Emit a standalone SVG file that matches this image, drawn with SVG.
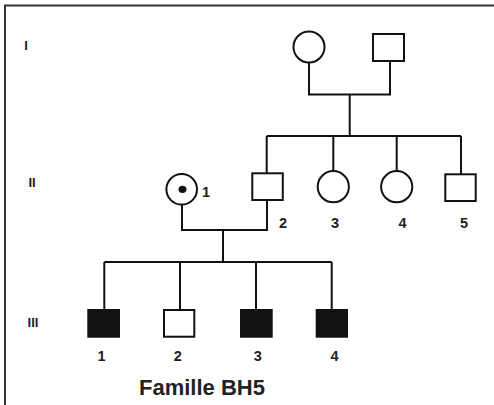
<svg xmlns="http://www.w3.org/2000/svg" width="494" height="405" viewBox="0 0 494 405">
<style>
.ln{fill:none;stroke:#111;stroke-width:2}
.nd{fill:#fff;stroke:#111;stroke-width:2}
.af{fill:#111;stroke:#111;stroke-width:2}
.num{font-family:"Liberation Sans",Arial,sans-serif;font-weight:bold;font-size:14.5px;fill:#222;text-anchor:middle}
.gen{font-family:"Liberation Sans",Arial,sans-serif;font-weight:bold;font-size:13px;fill:#1c1c30;text-anchor:middle}
.ttl{font-family:"Liberation Sans",Arial,sans-serif;font-weight:bold;font-size:22px;fill:#222}
</style>
<rect width="494" height="405" fill="#fff"/>
<path d="M5,405 V5.5 H494" fill="none" stroke="#333" stroke-width="2"/>
<g id="gen-labels">
<text class="gen" x="26" y="50">I</text>
<text class="gen" x="32" y="187">II</text>
<text class="gen" x="33" y="327">III</text>
</g>
<g id="connectors">
<path class="ln" d="M309,62.5 V94.5 H390 V60.7"/>
<path class="ln" d="M349.7,94.5 V136"/>
<path class="ln" d="M266.7,136 H461"/>
<path class="ln" d="M266.7,136 V173.3 M333.3,136 V171 M396.7,136 V171 M461,136 V174.3"/>
<path class="ln" d="M182,204.6 V230 H267 V200"/>
<path class="ln" d="M223,230 V262"/>
<path class="ln" d="M104.3,262 H331.7"/>
<path class="ln" d="M104.3,262 V310 M180,262 V310 M256,262 V310 M331.7,262 V310"/>
</g>
<g id="I-1"><circle class="nd" cx="309" cy="47" r="15.5"/></g>
<g id="I-2"><rect class="nd" x="373" y="34" width="31" height="27"/></g>
<g id="II-1"><circle class="nd" cx="181.7" cy="189.3" r="15.3"/><ellipse cx="182.5" cy="189.3" rx="4" ry="3.6" fill="#111"/><text class="num" x="206" y="197">1</text></g>
<g id="II-2"><rect class="nd" x="252.3" y="173.3" width="30.5" height="26.7"/><text class="num" x="283" y="228">2</text></g>
<g id="II-3"><circle class="nd" cx="333.3" cy="186.7" r="15.6"/><text class="num" x="335" y="228">3</text></g>
<g id="II-4"><circle class="nd" cx="396.7" cy="186.7" r="15.6"/><text class="num" x="402.5" y="228">4</text></g>
<g id="II-5"><rect class="nd" x="445.3" y="174.3" width="30.4" height="26.7"/><text class="num" x="464" y="228">5</text></g>
<g id="III-1"><rect class="af" x="88.3" y="310" width="30.7" height="26.7"/><text class="num" x="101.5" y="361">1</text></g>
<g id="III-2"><rect class="nd" x="164" y="310" width="30.3" height="26.7"/><text class="num" x="177.8" y="361">2</text></g>
<g id="III-3"><rect class="af" x="241" y="310" width="30.7" height="26.7"/><text class="num" x="257.8" y="361">3</text></g>
<g id="III-4"><rect class="af" x="316.7" y="310" width="30.3" height="26.7"/><text class="num" x="334.5" y="361">4</text></g>
<text class="ttl" x="139" y="394.5">Famille BH5</text>
</svg>
